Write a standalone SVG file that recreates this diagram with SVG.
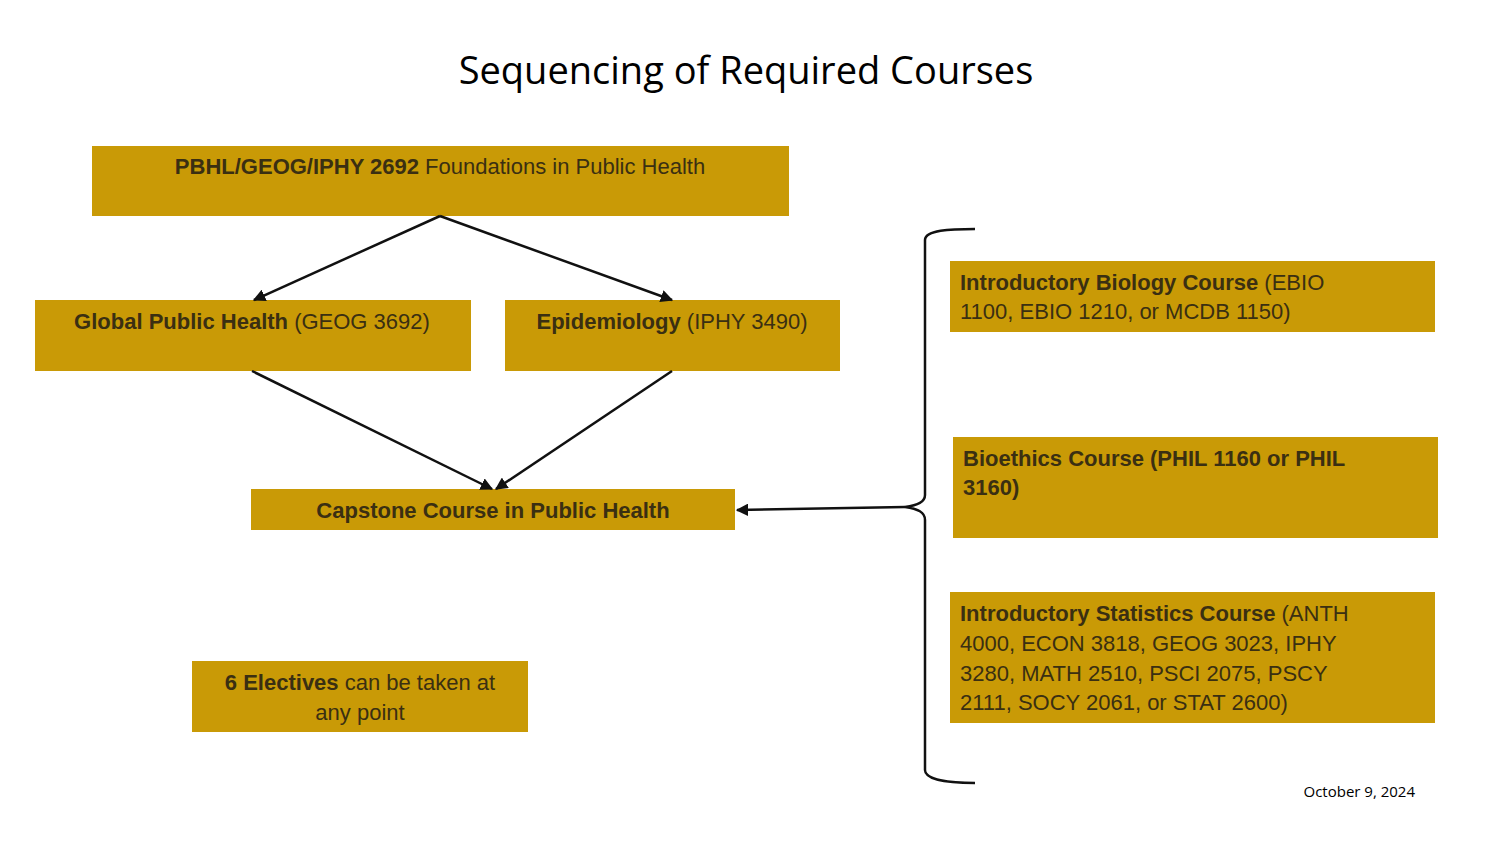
<svg xmlns="http://www.w3.org/2000/svg" width="1500" height="844" viewBox="0 0 1500 844">
<style>
.box{fill:#C99A06}
.t{font-family:"Liberation Sans",Arial,sans-serif;font-size:22px;fill:#3a2f12}
.b{font-weight:bold}
.ln{stroke:#111;stroke-width:2.5;fill:none}
</style>
<defs><marker id="ah" viewBox="0 0 10 10" refX="9" refY="5" markerWidth="5" markerHeight="5" orient="auto-start-reverse"><path d="M0,0L10,5L0,10z" fill="#111"/></marker></defs>
<rect width="1500" height="844" fill="#fff"/>
<text x="746" y="84" text-anchor="middle" font-family="Open Sans,sans-serif" font-size="38" fill="#000">Sequencing of Required Courses</text>
<g id="n1"><rect class="box" x="92" y="146" width="697" height="70"/><text class="t" x="440" y="174" text-anchor="middle"><tspan class="b">PBHL/GEOG/IPHY 2692</tspan> Foundations in Public Health</text></g>
<g id="n2"><rect class="box" x="35" y="300" width="436" height="71"/><text class="t" x="252" y="329" text-anchor="middle"><tspan class="b">Global Public Health</tspan> (GEOG 3692)</text></g>
<g id="n3"><rect class="box" x="505" y="300" width="335" height="71"/><text class="t" x="672" y="329" text-anchor="middle"><tspan class="b">Epidemiology</tspan> (IPHY 3490)</text></g>
<g id="n4"><rect class="box" x="251" y="489" width="484" height="41"/><text class="t b" x="493" y="518" text-anchor="middle">Capstone Course in Public Health</text></g>
<g id="n5"><rect class="box" x="192" y="661" width="336" height="71"/><text class="t" x="360" y="690" text-anchor="middle"><tspan class="b">6 Electives</tspan> can be taken at</text><text class="t" x="360" y="720" text-anchor="middle">any point</text></g>
<g id="n6"><rect class="box" x="950" y="261" width="485" height="71"/><text class="t" x="960" y="290"><tspan class="b">Introductory Biology Course</tspan> (EBIO</text><text class="t" x="960" y="319">1100, EBIO 1210, or MCDB 1150)</text></g>
<g id="n7"><rect class="box" x="953" y="437" width="485" height="101"/><text class="t b" x="963" y="466">Bioethics Course  (PHIL 1160 or PHIL</text><text class="t b" x="963" y="495">3160)</text></g>
<g id="n8"><rect class="box" x="950" y="592" width="485" height="131"/><text class="t" x="960" y="621"><tspan class="b">Introductory Statistics Course</tspan> (ANTH</text><text class="t" x="960" y="651">4000, ECON 3818, GEOG 3023, IPHY</text><text class="t" x="960" y="681">3280, MATH 2510, PSCI 2075, PSCY</text><text class="t" x="960" y="710">2111, SOCY 2061, or STAT 2600)</text></g>
<g id="connectors">
<path class="ln" d="M440,216L254,300" marker-end="url(#ah)"/>
<path class="ln" d="M440,216L672,300" marker-end="url(#ah)"/>
<path class="ln" d="M252,371L492,489" marker-end="url(#ah)"/>
<path class="ln" d="M672,371L496,489" marker-end="url(#ah)"/>
<path class="ln" d="M975,229C950,229 925,230 925,240L925,495C925,502 918,505 905,507C918,509 925,512 925,520L925,770C925,780 950,783 975,783"/>
<path class="ln" d="M905,507L737,510" marker-end="url(#ah)"/>
</g>
<text x="1415" y="797" text-anchor="end" font-family="Open Sans,sans-serif" font-size="15" fill="#000">October 9, 2024</text>
</svg>
